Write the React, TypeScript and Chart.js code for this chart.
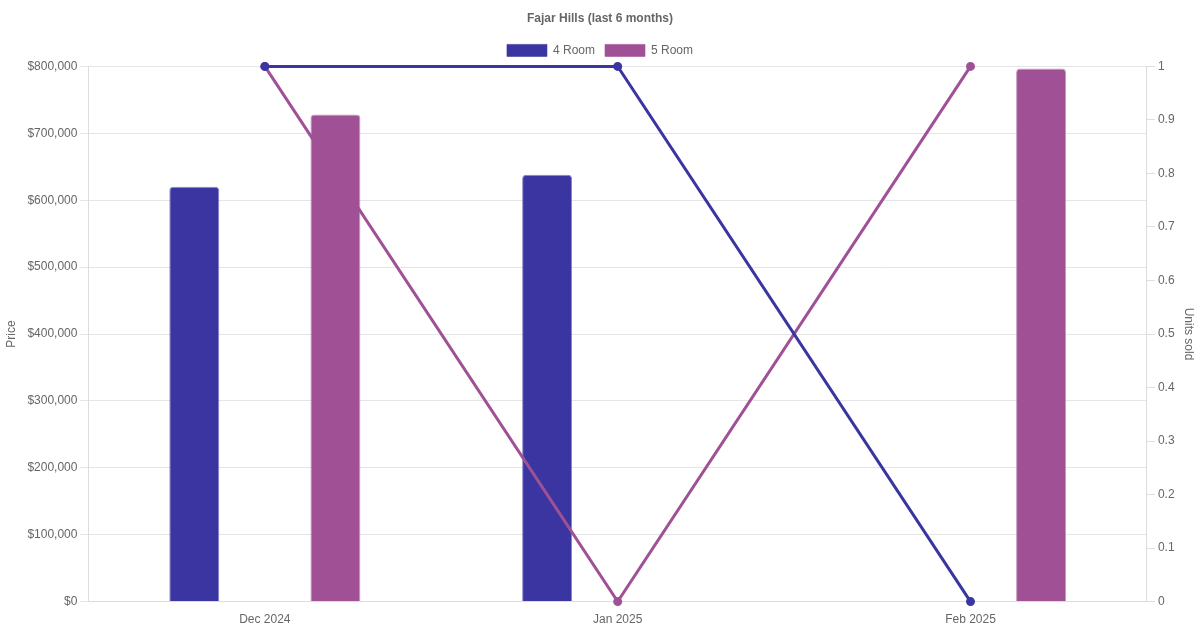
import React, { useEffect, useRef } from "react";
import { Chart, registerables } from "chart.js";

Chart.register(...registerables);

const months = ["Dec 2024", "Jan 2025", "Feb 2025"];
const price4Room: (number | null)[] = [620000, 638000, null];
const price5Room: (number | null)[] = [728000, null, 797000];
const units4Room = [1, 1, 0];
const units5Room = [1, 0, 1];

const COLOR_4 = "#3a35a0";
const COLOR_5 = "#a05195";

export default function App() {
  const ref = useRef<HTMLCanvasElement | null>(null);
  useEffect(() => {
    if (!ref.current) return;
    const chart = new Chart(ref.current, {
      type: "bar",
      data: {
        labels: months,
        datasets: [
          {
            type: "bar",
            label: "4 Room",
            data: price4Room,
            backgroundColor: COLOR_4,
            borderColor: "rgba(58,53,160,0.6)",
            borderWidth: 1,
            borderRadius: 4,
            borderSkipped: "bottom",
            maxBarThickness: 50,
            yAxisID: "y",
            order: 2,
          },
          {
            type: "bar",
            label: "5 Room",
            data: price5Room,
            backgroundColor: COLOR_5,
            borderColor: "rgba(160,81,149,0.6)",
            borderWidth: 1,
            borderRadius: 4,
            borderSkipped: "bottom",
            maxBarThickness: 50,
            yAxisID: "y",
            order: 2,
          },
          {
            type: "line",
            label: "4 Room units",
            data: units4Room,
            borderColor: COLOR_4,
            backgroundColor: COLOR_4,
            borderWidth: 3,
            pointRadius: 3,
            clip: false,
            yAxisID: "y1",
            order: 1,
          },
          {
            type: "line",
            label: "5 Room units",
            data: units5Room,
            borderColor: COLOR_5,
            backgroundColor: COLOR_5,
            borderWidth: 3,
            pointRadius: 3,
            clip: false,
            yAxisID: "y1",
            order: 1,
          },
        ] as any,
      },
      options: {
        animation: false,
        responsive: false,
        maintainAspectRatio: false,
        plugins: {
          title: {
            display: true,
            text: "Fajar Hills (last 6 months)",
            color: "#666",
            font: { size: 12, weight: "bold" },
            padding: { top: 11, bottom: 9 },
          },
          legend: {
            labels: {
              color: "#666",
              font: { size: 12 },
              filter: (item: any) => item.datasetIndex < 2,
            },
          },
          tooltip: { enabled: false },
        },
        scales: {
          x: {
            grid: { display: false },
            border: { color: "#ddd" },
            ticks: { color: "#666", font: { size: 12 } },
          },
          y: {
            position: "left",
            min: 0,
            max: 800000,
            ticks: {
              stepSize: 100000,
              color: "#666",
              font: { size: 12 },
              callback: (v: any) => "$" + Number(v).toLocaleString("en-US"),
            },
            grid: { color: "#e5e5e5" },
            border: { color: "#ddd" },
            title: {
              display: true,
              text: "Price",
              color: "#666",
              font: { size: 12 },
              padding: { top: 4, bottom: 6 },
            },
          },
          y1: {
            position: "right",
            min: 0,
            max: 1,
            ticks: {
              stepSize: 0.1,
              color: "#666",
              font: { size: 12 },
              callback: (v: any) => String(Math.round(Number(v) * 10) / 10),
            },
            grid: { drawOnChartArea: false, color: "#ddd" },
            border: { color: "#ddd" },
            title: { display: true, text: "Units sold", color: "#666", font: { size: 12 } },
          },
        },
      } as any,
    });
    return () => chart.destroy();
  }, []);
  return (
    <div style={{ position: "fixed", left: 0, top: 0, width: 1200, height: 630, background: "#fff" }}>
      <canvas ref={ref} width={1200} height={630} />
    </div>
  );
}
